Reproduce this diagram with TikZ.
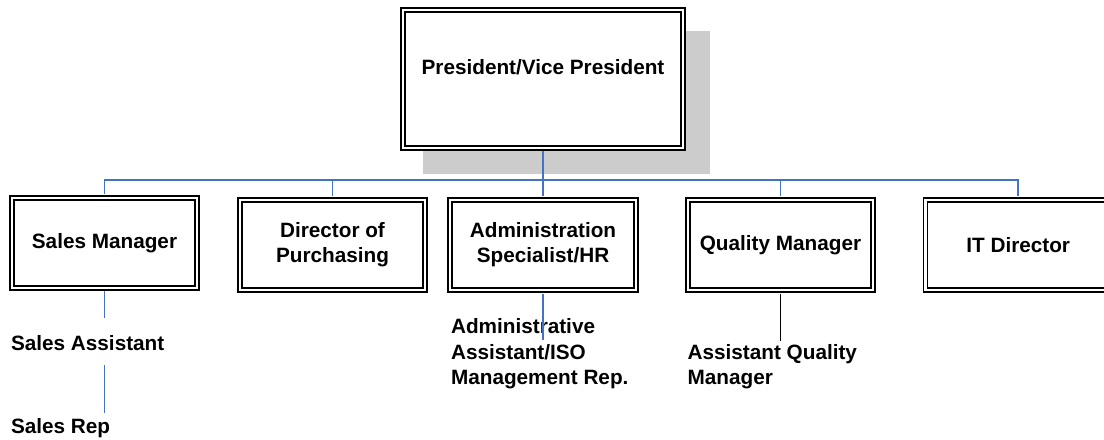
\documentclass[tikz,border=0pt]{standalone}
\usepackage{fontspec}
\setmainfont{Liberation Sans}
\definecolor{linkblue}{RGB}{68,114,196}
\definecolor{shadowgray}{RGB}{204,204,204}
\begin{document}
\begin{tikzpicture}[x=0.02cm,y=-0.02cm,
                    txt/.style={font=\bfseries\fontsize{11.8}{14.3}\selectfont},
                    orgbox/.style={txt,draw,double,double distance=1.2pt,line width=1pt,fill=white,
                                   minimum width=3.71cm,minimum height=1.8cm,align=center},
                    bigbox/.style={orgbox,minimum width=5.61cm,minimum height=2.75cm},
                    shadowbox/.style={fill=shadowgray,inner sep=0,minimum width=5.74cm,minimum height=2.86cm},
                    subtext/.style={txt,anchor=north west,inner sep=0,align=left},
                    link/.style={linkblue,line width=1.1pt}]
                    \useasboundingbox (0,0) rectangle (1104,439);
                    \clip (0,0) rectangle (1104,439);
                    %NODE
                    \node[shadowbox] (presshadow) at (566.5,102.5) {};
                    \node[bigbox] (pres) at (543,79) {};
                    \node[txt] (prestext) at (543,66.7) {President/Vice President};
                    \node[orgbox] (sales) at (104.5,242.75) {Sales Manager};
                    \node[orgbox] (purch) at (332.5,245) {Director of\\Purchasing};
                    \node[orgbox] (admin) at (543,245) {Administration\\Specialist/HR};
                    \node[orgbox] (quality) at (780.5,245) {Quality Manager};
                    \node[orgbox] (itdir) at (1018.2,245) {IT Director};
                    \node[subtext] (salesasst) at (10.7,334.8) {Sales Assistant};
                    \node[subtext] (salesrep) at (10.7,418.5) {Sales Rep};
                    \node[subtext] (adminasst) at (450.7,318.5) {Administrative\\Assistant/ISO\\Management Rep.};
                    \node[subtext] (qualasst) at (687.3,344.2) {Assistant Quality\\Manager};
                    \coordinate (bus) at (543,180);
                    \coordinate (salesend) at (104.5,318);
                    \coordinate (asstlow) at (104.5,365);
                    \coordinate (repup) at (104.5,413.3);
                    \coordinate (adminend) at (543,340);
                    \coordinate (qualend) at (780.5,340.7);
                    
                    %EDGE
                    \draw[link,shorten <=1.6pt] (pres) -- (bus);
                    \draw[link,shorten >=1.6pt] (bus) -| (sales);
                    \draw[link,shorten >=1.6pt] (bus) -| (purch);
                    \draw[link,shorten >=1.6pt] (bus) -- (admin);
                    \draw[link,shorten >=1.6pt] (bus) -| (quality);
                    \draw[link,shorten >=1.6pt] (bus) -| (itdir);
                    \draw[link,shorten <=1.6pt] (sales) -- (salesend);
                    \draw[link] (asstlow) -- (repup);
                    \draw[link,shorten <=1.6pt] (admin) -- (adminend);
                    \draw[line width=1.1pt,shorten <=1.6pt] (quality) -- (qualend);
                \end{tikzpicture}
\end{document}
